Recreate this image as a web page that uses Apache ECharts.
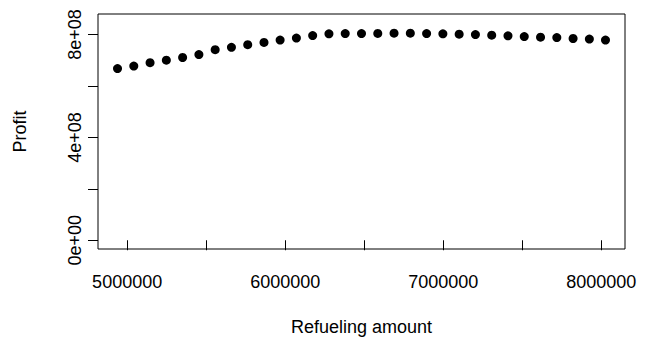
<!DOCTYPE html>
<html>
<head>
<meta charset="utf-8">
<script src="https://cdn.jsdelivr.net/npm/echarts@6/dist/echarts.min.js"></script>
<style>
html,body{margin:0;padding:0;background:#fff;}
#chart{width:648px;height:341px;}
</style>
</head>
<body>
<div id="chart"></div>
<script>
var refuelingAmount = [4939000, 5042000, 5145000, 5248000, 5351000, 5454000, 5557000, 5660000,
  5763000, 5866000, 5968000, 6071000, 6174000, 6277000, 6380000, 6483000, 6586000, 6689000,
  6792000, 6895000, 6998000, 7101000, 7204000, 7307000, 7410000, 7513000, 7616000, 7719000,
  7822000, 7925000, 8027000];
var profit = [667.6e6, 677.5e6, 690.5e6, 700.5e6, 710.8e6, 722.3e6, 741.4e6, 750.2e6,
  760.6e6, 769.4e6, 778.6e6, 786.2e6, 796.2e6, 802.7e6, 803.8e6, 803.8e6, 804.6e6, 805.4e6,
  805.4e6, 803.8e6, 802.7e6, 801.5e6, 800.0e6, 797.7e6, 795.0e6, 792.3e6, 790.0e6, 788.5e6,
  784.7e6, 782.4e6, 778.6e6];
var xTicks = [5000000, 5500000, 6000000, 6500000, 7000000, 7500000, 8000000];
var xTickLabels = [5000000, 6000000, 7000000, 8000000];
var yTicks = [0, 200000000, 400000000, 600000000, 800000000];
var yTickLabels = [0, 400000000, 800000000];
var yLabelText = {0: '0e+00', 400000000: '4e+08', 800000000: '8e+08'};

var pts = refuelingAmount.map(function (x, i) { return [x, profit[i]]; });
var FONT = 'Liberation Sans, Arial, Helvetica, sans-serif';

var chart = echarts.init(document.getElementById('chart'), null, {renderer: 'svg'});
chart.setOption({
  animation: false,
  backgroundColor: '#ffffff',
  grid: {left: 98, right: 23, top: 14, bottom: 88, show: true, borderColor: '#000', borderWidth: 1, backgroundColor: 'transparent'},
  xAxis: {
    type: 'value', min: 4815500, max: 8150500,
    axisLine: {show: false},
    splitLine: {show: false},
    axisTick: {show: true, length: 10, customValues: xTicks, lineStyle: {color: '#000', width: 1}},
    axisLabel: {show: true, customValues: xTickLabels, margin: 24, color: '#000', fontSize: 18, fontFamily: FONT,
      formatter: function (v) { return String(Math.round(v)); }},
    name: 'Refueling amount', nameLocation: 'middle', nameGap: 69,
    nameTextStyle: {color: '#000', fontSize: 18, fontFamily: FONT}
  },
  yAxis: {
    type: 'value', min: -34000000, max: 880000000,
    axisLine: {show: false},
    splitLine: {show: false},
    axisTick: {show: true, length: 10, customValues: yTicks, lineStyle: {color: '#000', width: 1}},
    axisLabel: {show: true, customValues: yTickLabels, rotate: 90, margin: 14, color: '#000', fontSize: 18, fontFamily: FONT,
      formatter: function (v) { return yLabelText[Math.round(v)] || ''; }},
    name: 'Profit', nameLocation: 'middle', nameGap: 69, nameRotate: 90,
    nameTextStyle: {color: '#000', fontSize: 18, fontFamily: FONT}
  },
  series: [{
    type: 'scatter',
    data: pts,
    symbol: 'circle',
    symbolSize: 9,
    itemStyle: {color: '#000', opacity: 1},
    silent: true
  }]
});
</script>
</body>
</html>
